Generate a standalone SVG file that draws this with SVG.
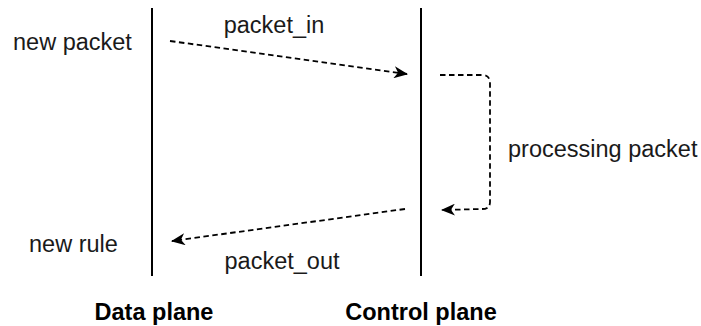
<svg xmlns="http://www.w3.org/2000/svg" width="701" height="326" viewBox="0 0 701 326">
<style>
.t{font-family:"Liberation Sans",Arial,sans-serif;font-size:23.5px;fill:#1a1a1a}
.b{font-weight:bold;fill:#000}
.v{stroke:#000;stroke-width:2;fill:none}
.d{stroke:#000;stroke-width:1.8;fill:none;stroke-dasharray:5.5 3.5}
</style>
<defs>
<marker id="ah" viewBox="0 0 14 12" refX="13" refY="6" markerWidth="14" markerHeight="12" markerUnits="userSpaceOnUse" orient="auto">
<path d="M0,0 L14,6 L0,12 L4,6 Z" fill="#000"/>
</marker>
</defs>
<rect width="701" height="326" fill="#fff"/>
<g id="data-plane">
<line class="v" x1="152" y1="8" x2="152" y2="276"/>
<text class="t b" x="154" y="320" text-anchor="middle">Data plane</text>
</g>
<g id="control-plane">
<line class="v" x1="421" y1="8" x2="421" y2="276"/>
<text class="t b" x="421" y="320" text-anchor="middle">Control plane</text>
</g>
<g id="new-packet"><text class="t" x="13" y="50">new packet</text></g>
<g id="new-rule"><text class="t" x="29" y="252">new rule</text></g>
<g id="connectors">
<line class="d" x1="170" y1="41" x2="407" y2="74" marker-end="url(#ah)"/>
<path class="d" d="M440,75 L482,75 Q490,75 490,83 L490,202 Q490,209 482,209 L442,210" marker-end="url(#ah)"/>
<line class="d" x1="405" y1="209" x2="172" y2="241" marker-end="url(#ah)"/>
</g>
<g id="labels">
<text class="t" x="274" y="33" text-anchor="middle">packet_in</text>
<text class="t" x="508" y="157">processing packet</text>
<text class="t" x="282" y="269" text-anchor="middle">packet_out</text>
</g>
</svg>
